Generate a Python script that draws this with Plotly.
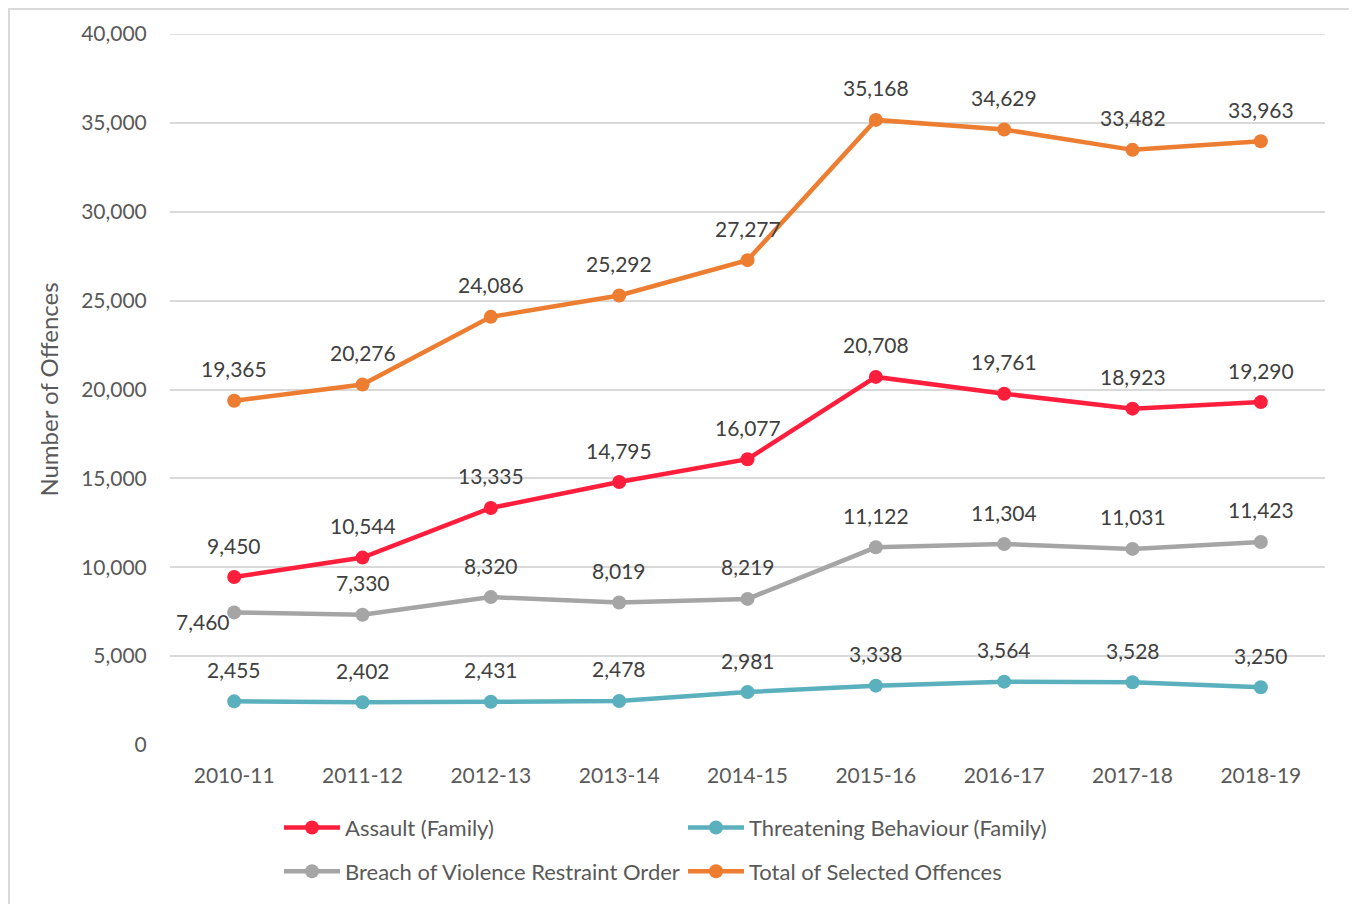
import plotly.graph_objects as go

years = ["2010-11", "2011-12", "2012-13", "2013-14", "2014-15", "2015-16", "2016-17", "2017-18", "2018-19"]
assault = [9450, 10544, 13335, 14795, 16077, 20708, 19761, 18923, 19290]
threatening = [2455, 2402, 2431, 2478, 2981, 3338, 3564, 3528, 3250]
breach = [7460, 7330, 8320, 8019, 8219, 11122, 11304, 11031, 11423]
total = [19365, 20276, 24086, 25292, 27277, 35168, 34629, 33482, 33963]
y_ticks = [0, 5000, 10000, 15000, 20000, 25000, 30000, 35000, 40000]

names = ["Assault (Family)", "Threatening Behaviour (Family)",
         "Breach of Violence Restraint Order", "Total of Selected Offences"]
colors = ["#FF1F3D", "#5BB0BE", "#A5A5A5", "#ED7D31"]
series = [assault, threatening, breach, total]
legends = ["legend", "legend", "legend2", "legend2"]

FONT = "Lato"
GRID = "#D9D9D9"
fig = go.Figure()
for name, vals, c, lg in zip(names, series, colors, legends):
    fig.add_trace(go.Scatter(
        x=years, y=vals, name=name, mode="lines+markers",
        line=dict(color=c, width=4.5),
        marker=dict(color=c, size=14),
        legend=lg,
    ))

annotations = []
for vals in series:
    for i, (yr, v) in enumerate(zip(years, vals)):
        xs, ys = 0, 32
        if vals is breach and i == 0:
            xs, ys = -31, -9
        annotations.append(dict(
            x=yr, y=v, text=f"{v:,}", showarrow=False,
            xshift=xs, yshift=ys,
            font=dict(family=FONT, size=21, color="#404040"),
        ))

OFF = 8  # page body offset
PH = 714  # plot height in px
legend_common = dict(orientation="h", xanchor="left", yanchor="middle",
                     entrywidth=333, entrywidthmode="pixels",
                     font=dict(size=22, color="#595959", family=FONT),
                     traceorder="normal", itemwidth=56)

fig.update_layout(
    width=1357 - OFF, height=904 - OFF,
    margin=dict(l=170 - OFF, r=32, t=34 - OFF, b=904 - OFF - (34 - OFF) - PH),
    paper_bgcolor="white", plot_bgcolor="white",
    font=dict(family=FONT, size=18, color="#595959"),
    annotations=annotations,
    xaxis=dict(type="category", range=[-0.5, 8.5], showgrid=False, zeroline=False, showline=False,
               ticks="outside", ticklen=12, tickcolor="white",
               tickfont=dict(size=21, color="#595959")),
    yaxis=dict(range=[0, 40000], tickvals=y_ticks,
               tickformat=",", showgrid=True,
               gridcolor=GRID, gridwidth=1.5, zeroline=False, showline=False,
               ticks="outside", ticklen=18, tickcolor="white",
               tickfont=dict(size=21, color="#595959"),
               title=dict(text="Number of Offences", font=dict(size=24, color="#595959"), standoff=15)),
    legend=dict(**legend_common, x=(279 - 170) / 1155, y=(748 - 831) / PH),
    legend2=dict(**legend_common, x=(279 - 170) / 1155, y=(748 - 875) / PH),
    showlegend=True,
    shapes=[
        dict(type="line", xref="paper", yref="y", x0=0, x1=1, y0=y_ticks[-1], y1=y_ticks[-1],
             line=dict(color=GRID, width=1.5), layer="below"),
        dict(type="rect", xref="paper", yref="paper",
             x0=(9 - 170) / 1155, x1=(1352 - 170) / 1155,
             y0=(748 - 915) / PH, y1=(748 - 9) / PH,
             line=dict(color=GRID, width=2), fillcolor="rgba(0,0,0,0)", layer="above"),
    ],
)

fig.write_html("out.html")
